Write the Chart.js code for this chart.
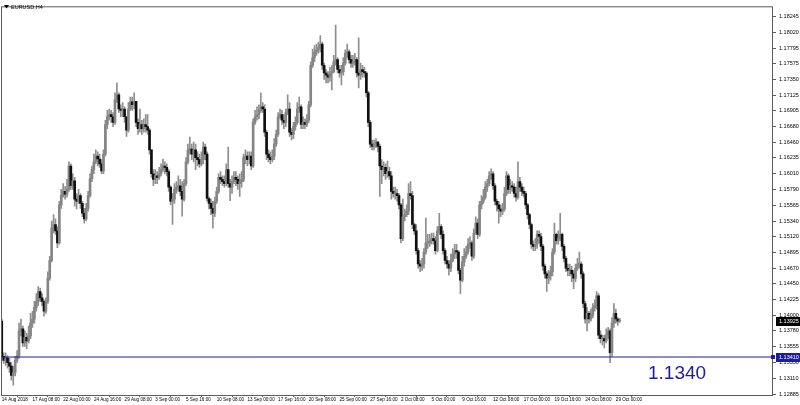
<!DOCTYPE html>
<html>
<head>
<meta charset="utf-8">
<title>EURUSD,H4</title>
<script src="https://cdn.jsdelivr.net/npm/chart.js@4.4.0/dist/chart.umd.min.js"></script>
<style>
  html, body { margin: 0; padding: 0; background: #fff; }
  #wrap { position: relative; width: 800px; height: 405px; }
</style>
</head>
<body>
<div id="wrap"><canvas id="chart" width="800" height="405"></canvas></div>
<script>
/* ── EURUSD H4 candles, 14 Aug 16:00 → 29 Oct 08:00 (2018) ── */

const symbolTitle = "EURUSD,H4";

// bottom axis: one label every 16 bars
const timeLabels = [
  "14 Aug 2018", "17 Aug 08:00", "22 Aug 00:00", "24 Aug 16:00", "29 Aug 08:00",
  "3 Sep 00:00", "5 Sep 16:00", "10 Sep 08:00", "13 Sep 00:00", "17 Sep 16:00",
  "20 Sep 08:00", "25 Sep 00:00", "27 Sep 16:00", "2 Oct 08:00", "5 Oct 00:00",
  "9 Oct 16:00", "12 Oct 08:00", "17 Oct 00:00", "19 Oct 16:00", "24 Oct 08:00",
  "29 Oct 00:00"
];
const labelEvery = 16;

// right axis price levels
const priceTicks = [
  1.18245, 1.18020, 1.17795, 1.17575, 1.17350, 1.17125, 1.16905, 1.16680, 1.16460,
  1.16235, 1.16010, 1.15790, 1.15565, 1.15340, 1.15120, 1.14895, 1.14670, 1.14450,
  1.14225, 1.14000, 1.13780, 1.13555, 1.13330, 1.13110, 1.12885
];

const levelPrice = 1.13410;   // blue horizontal line
const levelNote = "1.1340";   // blue note under the line
const lastPrice = 1.13925;    // bid

const opens = [
  1.1392,1.1342,1.1336,1.1340,1.1333,1.1328,1.1315,1.1319,1.1336,1.1343,
  1.1378,1.1381,1.1361,1.1369,1.1364,1.1371,1.1389,1.1395,1.1411,1.1420,
  1.1434,1.1425,1.1420,1.1406,1.1420,1.1453,1.1478,1.1524,1.1529,1.1520,
  1.1503,1.1557,1.1570,1.1576,1.1572,1.1579,1.1612,1.1584,1.1591,1.1565,
  1.1562,1.1570,1.1559,1.1545,1.1537,1.1552,1.1570,1.1594,1.1607,1.1618,1.1626,
  1.1622,1.1615,1.1605,1.1629,1.1671,1.1682,1.1685,1.1682,1.1674,1.1706,
  1.1713,1.1693,1.1691,1.1693,1.1682,1.1663,1.1693,1.1703,1.1699,1.1704,
  1.1674,1.1665,1.1671,1.1665,1.1671,1.1668,1.1663,1.1635,1.1601,1.1593,
  1.1598,1.1596,1.1601,1.1607,1.1612,1.1610,1.1604,1.1582,1.1562,1.1565,
  1.1579,1.1582,1.1584,1.1576,1.1565,1.1587,1.1618,1.1635,1.1636,1.1629,
  1.1635,1.1624,1.1621,1.1615,1.1621,1.1639,1.1629,1.1566,1.1559,1.1552,
  1.1545,1.1562,1.1576,1.1596,1.1593,1.1590,1.1587,1.1607,1.1587,1.1582,
  1.1590,1.1596,1.1593,1.1587,1.1590,1.1593,1.1624,1.1626,1.1621,1.1626,
  1.1612,1.1674,1.1682,1.1685,1.1691,1.1696,1.1693,1.1660,1.1629,1.1624,1.1621,
  1.1626,1.1643,1.1657,1.1682,1.1685,1.1677,1.1674,1.1688,1.1693,1.1660,
  1.1657,1.1668,1.1674,1.1693,1.1696,1.1671,1.1674,1.1671,1.1677,1.1699,
  1.1755,1.1766,1.1774,1.1777,1.1780,1.1785,1.1755,1.1744,1.1741,1.1738,
  1.1744,1.1746,1.1760,1.1763,1.1749,1.1744,1.1746,1.1758,1.1772,1.1774,
  1.1763,1.1758,1.1760,1.1763,1.1744,1.1741,1.1749,1.1746,1.1744,1.1716,
  1.1674,1.1643,1.1640,1.1643,1.1646,1.1640,1.1612,1.1607,1.1610,1.1601,
  1.1604,1.1598,1.1576,1.1573,1.1573,1.1570,1.1557,1.1509,1.1540,1.1543,
  1.1548,1.1573,1.1570,1.1529,1.1520,1.1492,1.1473,1.1470,1.1473,1.1490,
  1.1503,1.1503,1.1506,1.1509,1.1506,1.1492,1.1520,1.1526,1.1515,1.1492,1.1478,
  1.1473,1.1467,1.1478,1.1487,1.1492,1.1490,1.1464,1.1450,1.1476,1.1484,
  1.1490,1.1501,1.1503,1.1484,1.1517,1.1531,1.1515,1.1557,1.1562,1.1568,
  1.1582,1.1587,1.1598,1.1601,1.1584,1.1562,1.1557,1.1551,1.1548,1.1551,
  1.1573,1.1598,1.1579,1.1584,1.1582,1.1573,1.1568,1.1590,1.1582,1.1576,
  1.1573,1.1557,1.1543,1.1529,1.1501,1.1498,1.1501,1.1515,1.1512,1.1498,
  1.1470,1.1459,1.1453,1.1456,1.1462,1.1490,1.1515,1.1506,1.1509,1.1515,
  1.1498,1.1481,1.1467,1.1464,1.1464,1.1459,1.1453,1.1467,1.1473,1.1473,
  1.1459,1.1417,1.1395,1.1403,1.1395,1.1400,1.1411,1.1414,1.1428,1.1372,
  1.1367,1.1367,1.1364,1.1372,1.1378,1.1347,1.1389,1.1403,1.1395,1.1392
];

const highs = [
  1.1395,1.1347,1.1347,1.1343,1.1339,1.1333,1.1328,1.1342,1.1350,1.1389,
  1.1395,1.1385,1.1378,1.1375,1.1385,1.1403,1.1406,1.1420,1.1431,1.1441,
  1.1439,1.1431,1.1422,1.1425,1.1462,1.1484,1.1534,1.1543,1.1537,1.1526,
  1.1562,1.1579,1.1587,1.1583,1.1593,1.1618,1.1615,1.1601,1.1596,1.1573,
  1.1579,1.1573,1.1562,1.1552,1.1559,1.1576,1.1601,1.1612,1.1629,1.1635,1.1632,
  1.1629,1.1621,1.1635,1.1677,1.1691,1.1693,1.1691,1.1688,1.1716,1.1730,
  1.1716,1.1699,1.1702,1.1696,1.1682,1.1702,1.1710,1.1710,1.1716,1.1704,
  1.1679,1.1693,1.1677,1.1679,1.1685,1.1685,1.1665,1.1635,1.1607,1.1607,
  1.1604,1.1610,1.1615,1.1622,1.1618,1.1615,1.1607,1.1584,1.1573,1.1587,
  1.1590,1.1598,1.1593,1.1590,1.1593,1.1624,1.1643,1.1653,1.1643,1.1646,
  1.1643,1.1632,1.1629,1.1632,1.1646,1.1643,1.1632,1.1568,1.1565,1.1562,
  1.1568,1.1582,1.1601,1.1604,1.1598,1.1598,1.1615,1.1639,1.1593,1.1598,
  1.1604,1.1604,1.1598,1.1601,1.1604,1.1629,1.1635,1.1632,1.1632,1.1632,
  1.1679,1.1691,1.1696,1.1699,1.1716,1.1702,1.1699,1.1663,1.1635,1.1632,1.1635,
  1.1651,1.1663,1.1688,1.1693,1.1691,1.1685,1.1693,1.1713,1.1702,1.1665,
  1.1674,1.1682,1.1702,1.1710,1.1699,1.1682,1.1679,1.1685,1.1704,1.1760,
  1.1778,1.1783,1.1785,1.1788,1.1797,1.1788,1.1758,1.1749,1.1746,1.1752,
  1.1755,1.1769,1.1812,1.1766,1.1755,1.1755,1.1766,1.1777,1.1785,1.1777,
  1.1769,1.1769,1.1772,1.1766,1.1794,1.1758,1.1755,1.1752,1.1746,1.1718,
  1.1677,1.1649,1.1649,1.1651,1.1647,1.1643,1.1621,1.1618,1.1615,1.1619,
  1.1610,1.1604,1.1582,1.1582,1.1579,1.1573,1.1559,1.1565,1.1551,1.1557,
  1.1587,1.1590,1.1576,1.1531,1.1529,1.1495,1.1478,1.1481,1.1495,1.1538,
  1.1515,1.1515,1.1517,1.1517,1.1512,1.1526,1.1545,1.1529,1.1520,1.1495,1.1484,
  1.1478,1.1487,1.1495,1.1501,1.1501,1.1492,1.1467,1.1484,1.1495,1.1498,
  1.1509,1.1512,1.1506,1.1523,1.1540,1.1537,1.1562,1.1570,1.1579,1.1590,
  1.1593,1.1604,1.1608,1.1604,1.1587,1.1565,1.1562,1.1557,1.1559,1.1582,
  1.1604,1.1601,1.1593,1.1590,1.1587,1.1582,1.1618,1.1596,1.1587,1.1582,
  1.1576,1.1559,1.1545,1.1531,1.1506,1.1509,1.1520,1.1520,1.1517,1.1501,
  1.1473,1.1462,1.1464,1.1470,1.1495,1.1531,1.1517,1.1520,1.1545,1.1517,
  1.1501,1.1484,1.1473,1.1473,1.1470,1.1464,1.1473,1.1481,1.1490,1.1476,
  1.1462,1.1420,1.1411,1.1406,1.1409,1.1417,1.1422,1.1434,1.1431,1.1378,
  1.1372,1.1372,1.1381,1.1383,1.1381,1.1397,1.1417,1.1409,1.1397,1.1396
];

const lows = [
  1.1339,1.1332,1.1329,1.1325,1.1319,1.1308,1.1301,1.1314,1.1333,1.1339,
  1.1371,1.1356,1.1356,1.1353,1.1361,1.1367,1.1383,1.1389,1.1406,1.1414,
  1.1420,1.1414,1.1399,1.1403,1.1417,1.1450,1.1476,1.1517,1.1515,1.1496,
  1.1501,1.1552,1.1568,1.1565,1.1568,1.1576,1.1579,1.1579,1.1555,1.1551,
  1.1559,1.1552,1.1540,1.1531,1.1534,1.1548,1.1568,1.1590,1.1601,1.1615,1.1612,
  1.1610,1.1601,1.1601,1.1626,1.1665,1.1677,1.1674,1.1668,1.1671,1.1702,
  1.1688,1.1682,1.1682,1.1674,1.1654,1.1660,1.1691,1.1691,1.1693,1.1668,
  1.1657,1.1660,1.1657,1.1660,1.1660,1.1657,1.1629,1.1596,1.1584,1.1587,
  1.1587,1.1593,1.1598,1.1604,1.1601,1.1598,1.1576,1.1557,1.1529,1.1559,
  1.1573,1.1576,1.1570,1.1541,1.1562,1.1584,1.1615,1.1629,1.1621,1.1618,
  1.1607,1.1612,1.1610,1.1612,1.1615,1.1621,1.1562,1.1551,1.1543,1.1524,
  1.1540,1.1559,1.1573,1.1587,1.1584,1.1582,1.1584,1.1582,1.1563,1.1573,
  1.1587,1.1584,1.1579,1.1569,1.1582,1.1590,1.1615,1.1612,1.1615,1.1607,
  1.1610,1.1671,1.1677,1.1679,1.1688,1.1688,1.1654,1.1621,1.1618,1.1615,1.1618,
  1.1621,1.1640,1.1654,1.1679,1.1671,1.1665,1.1668,1.1685,1.1654,1.1649,
  1.1651,1.1663,1.1671,1.1688,1.1665,1.1665,1.1665,1.1668,1.1674,1.1696,
  1.1752,1.1760,1.1769,1.1772,1.1774,1.1749,1.1735,1.1730,1.1730,1.1732,
  1.1720,1.1744,1.1755,1.1744,1.1738,1.1727,1.1741,1.1755,1.1766,1.1758,
  1.1752,1.1752,1.1755,1.1738,1.1723,1.1735,1.1738,1.1738,1.1710,1.1668,
  1.1638,1.1635,1.1635,1.1638,1.1632,1.1569,1.1587,1.1598,1.1593,1.1596,
  1.1593,1.1565,1.1568,1.1565,1.1562,1.1551,1.1503,1.1506,1.1534,1.1540,
  1.1543,1.1565,1.1523,1.1515,1.1487,1.1467,1.1462,1.1464,1.1467,1.1487,
  1.1495,1.1498,1.1501,1.1501,1.1487,1.1490,1.1515,1.1509,1.1487,1.1473,1.1467,
  1.1457,1.1462,1.1476,1.1481,1.1481,1.1459,1.1431,1.1448,1.1470,1.1481,
  1.1487,1.1495,1.1478,1.1481,1.1515,1.1509,1.1512,1.1551,1.1559,1.1565,
  1.1576,1.1584,1.1593,1.1579,1.1557,1.1548,1.1531,1.1540,1.1543,1.1548,
  1.1570,1.1573,1.1573,1.1576,1.1568,1.1562,1.1565,1.1576,1.1570,1.1568,
  1.1551,1.1537,1.1523,1.1495,1.1492,1.1492,1.1495,1.1503,1.1492,1.1464,
  1.1453,1.1434,1.1445,1.1450,1.1456,1.1487,1.1501,1.1501,1.1506,1.1492,
  1.1476,1.1462,1.1456,1.1456,1.1448,1.1438,1.1448,1.1464,1.1467,1.1453,
  1.1411,1.1389,1.1378,1.1389,1.1392,1.1397,1.1406,1.1409,1.1367,1.1361,
  1.1358,1.1354,1.1361,1.1367,1.1333,1.1342,1.1383,1.1389,1.1386,1.1390
];

const closes = [
  1.1342,1.1336,1.1340,1.1333,1.1328,1.1315,1.1319,1.1336,1.1343,1.1378,
  1.1381,1.1361,1.1369,1.1364,1.1371,1.1389,1.1395,1.1411,1.1420,1.1434,
  1.1425,1.1420,1.1406,1.1420,1.1453,1.1478,1.1524,1.1529,1.1520,1.1503,
  1.1557,1.1570,1.1576,1.1572,1.1579,1.1612,1.1584,1.1591,1.1565,1.1562,
  1.1570,1.1559,1.1545,1.1537,1.1552,1.1570,1.1594,1.1607,1.1618,1.1626,1.1622,
  1.1615,1.1605,1.1629,1.1671,1.1682,1.1685,1.1682,1.1674,1.1706,1.1713,
  1.1693,1.1691,1.1693,1.1682,1.1663,1.1693,1.1703,1.1699,1.1704,1.1674,
  1.1665,1.1671,1.1665,1.1671,1.1668,1.1663,1.1635,1.1601,1.1593,1.1598,
  1.1596,1.1601,1.1607,1.1612,1.1610,1.1604,1.1582,1.1562,1.1565,1.1579,
  1.1582,1.1584,1.1576,1.1565,1.1587,1.1618,1.1635,1.1636,1.1629,1.1635,
  1.1624,1.1621,1.1615,1.1621,1.1639,1.1629,1.1566,1.1559,1.1552,1.1545,
  1.1562,1.1576,1.1596,1.1593,1.1590,1.1587,1.1607,1.1587,1.1582,1.1590,
  1.1596,1.1593,1.1587,1.1590,1.1593,1.1624,1.1626,1.1621,1.1626,1.1612,
  1.1674,1.1682,1.1685,1.1691,1.1696,1.1693,1.1660,1.1629,1.1624,1.1621,1.1626,
  1.1643,1.1657,1.1682,1.1685,1.1677,1.1674,1.1688,1.1693,1.1660,1.1657,
  1.1668,1.1674,1.1693,1.1696,1.1671,1.1674,1.1671,1.1677,1.1699,1.1755,
  1.1766,1.1774,1.1777,1.1780,1.1785,1.1755,1.1744,1.1741,1.1738,1.1744,
  1.1746,1.1760,1.1763,1.1749,1.1744,1.1746,1.1758,1.1772,1.1774,1.1763,
  1.1758,1.1760,1.1763,1.1744,1.1741,1.1749,1.1746,1.1744,1.1716,1.1674,
  1.1643,1.1640,1.1643,1.1646,1.1640,1.1612,1.1607,1.1610,1.1601,1.1604,
  1.1598,1.1576,1.1573,1.1573,1.1570,1.1557,1.1509,1.1540,1.1543,1.1548,
  1.1573,1.1570,1.1529,1.1520,1.1492,1.1473,1.1470,1.1473,1.1490,1.1503,
  1.1503,1.1506,1.1509,1.1506,1.1492,1.1520,1.1526,1.1515,1.1492,1.1478,1.1473,
  1.1467,1.1478,1.1487,1.1492,1.1490,1.1464,1.1450,1.1476,1.1484,1.1490,
  1.1501,1.1503,1.1484,1.1517,1.1531,1.1515,1.1557,1.1562,1.1568,1.1582,
  1.1587,1.1598,1.1601,1.1584,1.1562,1.1557,1.1551,1.1548,1.1551,1.1573,
  1.1598,1.1579,1.1584,1.1582,1.1573,1.1568,1.1590,1.1582,1.1576,1.1573,
  1.1557,1.1543,1.1529,1.1501,1.1498,1.1501,1.1515,1.1512,1.1498,1.1470,
  1.1459,1.1453,1.1456,1.1462,1.1490,1.1515,1.1506,1.1509,1.1515,1.1498,
  1.1481,1.1467,1.1464,1.1464,1.1459,1.1453,1.1467,1.1473,1.1473,1.1459,
  1.1417,1.1395,1.1403,1.1395,1.1400,1.1411,1.1414,1.1428,1.1372,1.1367,
  1.1367,1.1364,1.1372,1.1378,1.1347,1.1389,1.1403,1.1395,1.1392,1.13925
];

// view window (bar index units) and price range of the window
const xMin = -0.4, xMax = 401.9;
const yMin = 1.12871, yMax = 1.183868;

const FONT = "'Liberation Sans', Arial, sans-serif";
const BLUE = "#1c1c9c";

const wickData = highs.map((h, i) => ({ x: i, y: [lows[i], h] }));
const bodyData = opens.map((o, i) => ({ x: i, y: [o, closes[i]] }));
const bodyColors = opens.map((o, i) => closes[i] < o ? "#101010" : "#858585");

const overlay = {
  id: "overlay",
  afterDraw(chart) {
    const { ctx, chartArea: a, scales: { y } } = chart;
    ctx.save();

    // frame round the plot
    ctx.strokeStyle = "#5c5c5c";
    ctx.lineWidth = 1;
    ctx.strokeRect(a.left + 0.5, a.top + 0.5, a.right - a.left - 1, a.bottom - a.top);

    // symbol caption
    ctx.fillStyle = "#000";
    ctx.beginPath();
    ctx.moveTo(4, 5); ctx.lineTo(9, 5); ctx.lineTo(6.5, 8.5); ctx.closePath();
    ctx.fill();
    ctx.font = "5.5px " + FONT;
    ctx.textBaseline = "middle";
    ctx.fillText(symbolTitle, 11, 7);

    // price tags on the right scale
    const tag = (value, bg) => {
      const py = Math.round(y.getPixelForValue(value));
      ctx.fillStyle = bg;
      ctx.fillRect(a.right + 3, py - 4, chart.width - a.right - 3, 9);
      ctx.fillStyle = "#fff";
      ctx.font = "5.5px " + FONT;
      ctx.textBaseline = "middle";
      ctx.fillText(value.toFixed(5), a.right + 6, py + 0.5);
      return py;
    };
    tag(lastPrice, "#000");
    const ly = tag(levelPrice, BLUE);
    ctx.fillStyle = BLUE;
    ctx.fillRect(a.right - 2, ly - 2, 4, 4);

    // note under the level
    ctx.font = "19px " + FONT;
    ctx.textBaseline = "alphabetic";
    ctx.fillStyle = BLUE;
    ctx.fillText(levelNote, 648, y.getPixelForValue(levelPrice) + 22);

    ctx.restore();
  }
};

new Chart(document.getElementById("chart"), {
  type: "bar",
  data: {
    datasets: [
      { data: wickData, backgroundColor: "#8e8e8e", barThickness: 1, grouped: false, order: 2 },
      { data: bodyData, backgroundColor: bodyColors, barThickness: 2, grouped: false, minBarLength: 1, order: 1 },
      {
        type: "line",
        data: [{ x: xMin, y: levelPrice }, { x: xMax, y: levelPrice }],
        borderColor: BLUE, borderWidth: 1, pointRadius: 0, order: 0
      }
    ]
  },
  options: {
    responsive: false,
    animation: false,
    layout: { padding: { left: 1, top: 1, right: 0, bottom: 0 } },
    plugins: { legend: { display: false }, tooltip: { enabled: false } },
    scales: {
      x: {
        type: "linear",
        min: xMin,
        max: xMax,
        offset: false,
        border: { display: false },
        grid: { drawOnChartArea: false, drawTicks: true, tickLength: 2, color: "#5c5c5c" },
        afterBuildTicks: s => { s.ticks = timeLabels.map((t, k) => ({ value: k * labelEvery })); },
        afterFit: s => { s.height = 10; },
        ticks: {
          autoSkip: false, maxRotation: 0, align: "start", padding: 0,
          color: "#000", font: { family: FONT, size: 4.6 },
          callback: (v, k) => timeLabels[k]
        }
      },
      y: {
        position: "right",
        min: yMin,
        max: yMax,
        border: { display: false },
        grid: { drawOnChartArea: false, drawTicks: true, tickLength: 3, color: "#5c5c5c" },
        afterBuildTicks: s => { s.ticks = priceTicks.map(v => ({ value: v })); },
        afterFit: s => { s.width = 27; },
        ticks: {
          padding: 3, color: "#000", font: { family: FONT, size: 5.5 },
          callback: v => v.toFixed(5)
        }
      }
    }
  },
  plugins: [overlay]
});
</script>
</body>
</html>
